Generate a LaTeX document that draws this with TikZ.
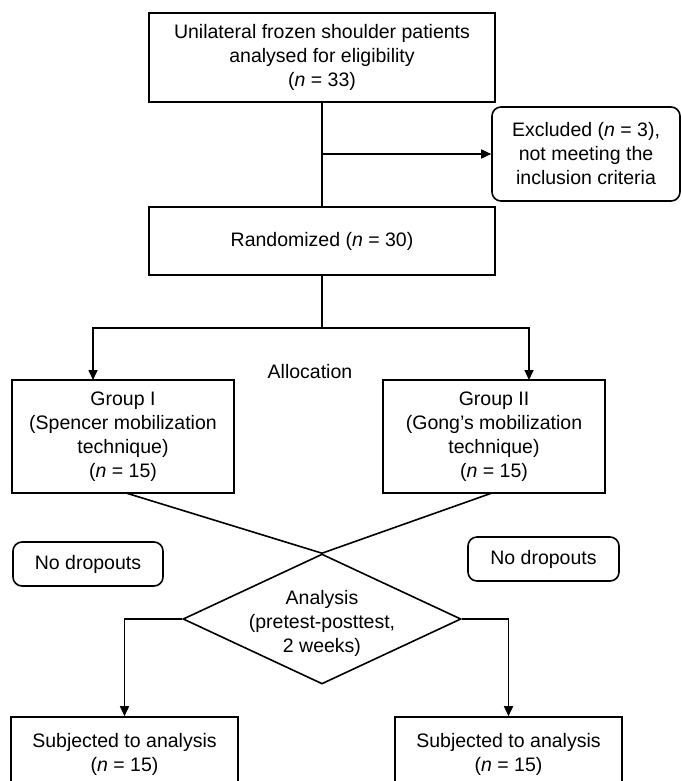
\documentclass[tikz,border=0pt]{standalone}
\usepackage{fontspec}
\setmainfont{Liberation Sans}
\usetikzlibrary{arrows.meta,shapes.geometric}
\begin{document}
\begin{tikzpicture}[x=1pt,y=-1pt,
  every node/.style={font=\fontsize{19.5pt}{24pt}\selectfont},
  box/.style={draw,line width=1.6pt,rectangle,inner sep=0pt,align=center},
  rbox/.style={box,rounded corners=9pt},
  link/.style={line width=1.6pt},
  arr/.style={link,-{Triangle[length=10pt,width=9pt]}}]
\useasboundingbox (0,0) rectangle (681,781);

\node[box,minimum width=346pt,minimum height=89pt] (elig) at (322,57.5)
  {Unilateral frozen shoulder patients\\analysed for eligibility\\(\textit{n} = 33)};
\node[rbox,minimum width=188pt,minimum height=94pt] (excl) at (586,154)
  {Excluded (\textit{n} = 3),\\not meeting the\\inclusion criteria};
\node[box,minimum width=346pt,minimum height=68pt] (rand) at (322,241)
  {Randomized (\textit{n} = 30)};

\draw[link] (elig.south) -- (rand.north);
\draw[arr] (elig.south |- excl.west) -- (excl.west);

\coordinate (split) at (322,328);
\draw[link] (rand.south) -- (split);

\node[box,minimum width=222pt,minimum height=113pt] (g1) at (123,436.5)
  {Group I\\(Spencer mobilization\\technique)\\(\textit{n} = 15)};
\node[box,minimum width=222pt,minimum height=113pt] (g2) at (494,436.5)
  {Group II\\(Gong’s mobilization\\technique)\\(\textit{n} = 15)};
\coordinate (g1in) at (93,380);
\coordinate (g2in) at (529,380);
\draw[arr] (split) -| (g1in);
\draw[arr] (split) -| (g2in);
\node (alloc) at (310,372) {Allocation};

\node[draw,diamond,line width=1.6pt,minimum width=278pt,minimum height=130pt,inner sep=0pt] (dia) at (322,619) {};
\node[align=center] (diatext) at (322,623) {Analysis\\(pretest-posttest,\\2 weeks)};
\coordinate (g1out) at (126,493);
\coordinate (g2out) at (492,493);
\draw[link] (g1out) -- (dia.north);
\draw[link] (g2out) -- (dia.north);

\node[rbox,minimum width=150pt,minimum height=44pt] (nd1) at (88,564) {No dropouts};
\node[rbox,minimum width=151pt,minimum height=44pt] (nd2) at (543.5,559) {No dropouts};

\node[box,minimum width=227pt,minimum height=74pt] (s1) at (124.5,754)
  {Subjected to analysis\\(\textit{n} = 15)};
\node[box,minimum width=227pt,minimum height=74pt] (s2) at (508.5,754)
  {Subjected to analysis\\(\textit{n} = 15)};
\draw[arr] (dia.west) -| (s1.north);
\draw[arr] (dia.east) -| (s2.north);
\end{tikzpicture}
\end{document}
